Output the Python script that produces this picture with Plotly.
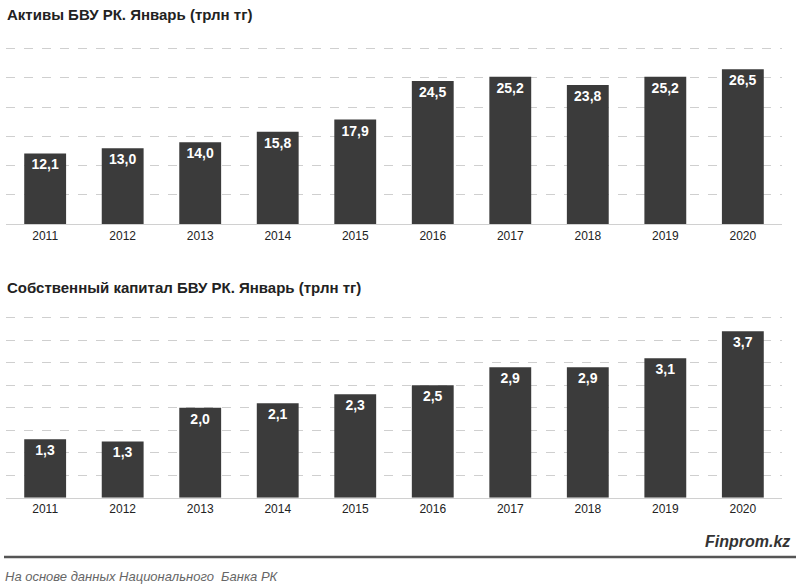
import plotly.graph_objects as go
from plotly.subplots import make_subplots

years = ["2011", "2012", "2013", "2014", "2015", "2016", "2017", "2018", "2019", "2020"]
assets = [12.1, 13.0, 14.0, 15.8, 17.9, 24.5, 25.2, 23.8, 25.2, 26.5]
capital = [1.3, 1.25, 2.0, 2.1, 2.3, 2.5, 2.9, 2.9, 3.1, 3.7]
capital_labels = ["1,3", "1,3", "2,0", "2,1", "2,3", "2,5", "2,9", "2,9", "3,1", "3,7"]

bar_color = "#3b3b3b"
font = "Liberation Sans"

fig = make_subplots(rows=2, cols=1)
fig.add_trace(go.Bar(x=years, y=assets, marker_color=bar_color, marker_line_width=0,
                     text=["<b>" + f"{v:.1f}".replace(".", ",") + "</b>" for v in assets],
                     textposition="inside", insidetextanchor="end",
                     textfont=dict(color="white", size=14, family=font),
                     cliponaxis=False), row=1, col=1)
fig.add_trace(go.Bar(x=years, y=capital, marker_color=bar_color, marker_line_width=0,
                     text=["<b>" + t + "</b>" for t in capital_labels],
                     textposition="inside", insidetextanchor="end",
                     textfont=dict(color="white", size=14, family=font),
                     cliponaxis=False), row=2, col=1)

grid = dict(showgrid=True, gridcolor="#cfcfcf", griddash="dash", gridwidth=1,
            showticklabels=False, zeroline=False, ticks="")
fig.update_yaxes(range=[0, 30.5], dtick=5, domain=[0.618, 0.922], **grid, row=1, col=1)
fig.update_yaxes(range=[0, 4.06], dtick=0.5, domain=[0.152, 0.4635], **grid, row=2, col=1)
fig.update_xaxes(domain=[0.008, 0.977], showline=True, linecolor="#d0d0d0", linewidth=1,
                 tickfont=dict(size=12, family=font, color="#222"), ticks="")

fig.update_layout(
    width=800, height=587, margin=dict(l=0, r=0, t=0, b=0),
    paper_bgcolor="white", plot_bgcolor="white", showlegend=False, bargap=0.46,
    font=dict(family=font),
    annotations=[
        dict(text="<b>Активы БВУ РК. Январь (трлн тг)</b>", x=0.006, y=1 - 14 / 587,
             xref="paper", yref="paper", xanchor="left", yanchor="middle", showarrow=False,
             font=dict(size=15, color="#222", family=font)),
        dict(text="<b>Собственный капитал БВУ РК. Январь (трлн тг)</b>", x=0.006, y=1 - 287 / 587,
             xref="paper", yref="paper", xanchor="left", yanchor="middle", showarrow=False,
             font=dict(size=15, color="#222", family=font)),
        dict(text="<b><i>Finprom.kz</i></b>", x=0.99, y=1 - 541 / 587,
             xref="paper", yref="paper", xanchor="right", yanchor="middle", showarrow=False,
             font=dict(size=16, color="#333", family=font)),
        dict(text="<i>На основе данных Национального  Банка РК</i>", x=0.004, y=1 - 576 / 587,
             xref="paper", yref="paper", xanchor="left", yanchor="middle", showarrow=False,
             font=dict(size=13, color="#666", family=font)),
    ],
    shapes=[dict(type="line", xref="paper", yref="paper", x0=0.005, x1=0.995,
                 y0=1 - 557 / 587, y1=1 - 557 / 587, line=dict(color="#555", width=2.5))],
)

fig.write_html("out.html", config={"displayModeBar": False},
               post_script="document.body.style.margin='0';")
